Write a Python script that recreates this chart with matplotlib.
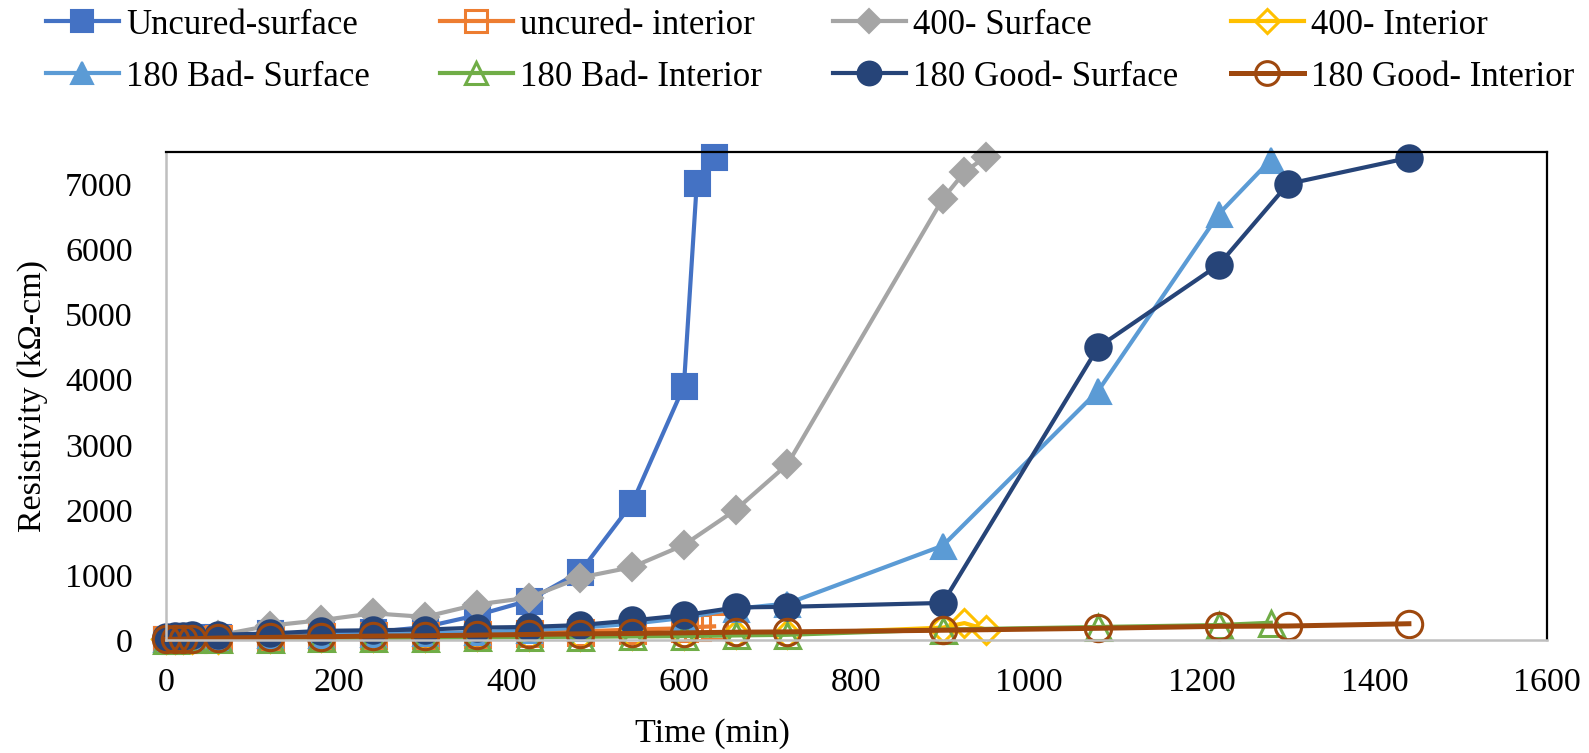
import matplotlib
matplotlib.use("Agg")
import matplotlib.pyplot as plt
from matplotlib.lines import Line2D

plt.rcParams['font.family'] = ['Liberation Serif', 'DejaVu Serif']

# time axis (min) for each group of specimens
t_uncured = [0, 10, 20, 30, 60, 120, 180, 240, 300, 360, 420, 480, 540, 600, 615, 635]
t_400 = [0, 10, 20, 30, 60, 120, 180, 240, 300, 360, 420, 480, 540, 600, 660, 720, 900, 925, 950]
t_bad = [0, 10, 20, 30, 60, 120, 180, 240, 300, 360, 420, 480, 540, 600, 660, 720, 900, 1080, 1220, 1280]
t_good = [0, 10, 20, 30, 60, 120, 180, 240, 300, 360, 420, 480, 540, 600, 660, 720, 900, 1080, 1220, 1300, 1440]

# resistivity (kOhm-cm)
uncured_surf = [20, 25, 30, 40, 50, 100, 110, 120, 200, 380, 605, 1050, 2100, 3900, 7030, 7420]
uncured_int = [10, 12, 15, 20, 30, 45, 60, 70, 80, 95, 110, 130, 160, 180, 200, 210]
s400_surf = [20, 25, 30, 40, 70, 220, 305, 410, 355, 545, 650, 960, 1120, 1460, 2000, 2700, 6780, 7190, 7430]
s400_int = [10, 11, 12, 15, 20, 30, 40, 45, 50, 55, 60, 65, 70, 75, 85, 95, 190, 260, 160]
bad_surf = [20, 25, 30, 40, 50, 70, 80, 90, 100, 120, 150, 190, 250, 340, 480, 560, 1450, 3830, 6550, 7380]
bad_int = [5, 6, 8, 10, 15, 20, 25, 30, 35, 40, 45, 50, 55, 60, 70, 80, 160, 200, 230, 265]
good_surf = [50, 55, 60, 70, 80, 100, 140, 150, 160, 190, 200, 230, 300, 380, 500, 510, 570, 4500, 5770, 7010, 7410]
good_int = [10, 12, 15, 20, 30, 40, 50, 60, 65, 75, 85, 95, 100, 110, 120, 125, 150, 180, 210, 215, 250]

labels = ['Uncured-surface', 'uncured- interior', '400- Surface', '400- Interior',
          '180 Bad- Surface', '180 Bad- Interior', '180 Good- Surface', '180 Good- Interior']
xticks = [0, 200, 400, 600, 800, 1000, 1200, 1400, 1600]
yticks = [0, 1000, 2000, 3000, 4000, 5000, 6000, 7000]

# (x, y, colour, marker, size, filled, linewidth)
series = [
    (t_uncured, uncured_surf, '#4472C4', 's', 18, True, 3.0),
    (t_uncured, uncured_int, '#ED7D31', 's', 18, False, 3.0),
    (t_400, s400_surf, '#A5A5A5', 'D', 14, True, 3.0),
    (t_400, s400_int, '#FFC000', 'D', 14, False, 3.0),
    (t_bad, bad_surf, '#5B9BD5', '^', 18, True, 3.0),
    (t_bad, bad_int, '#70AD47', '^', 18, False, 3.0),
    (t_good, good_surf, '#264478', 'o', 19, True, 3.0),
    (t_good, good_int, '#9E480E', 'o', 19, False, 3.6),
]

fig = plt.figure(figsize=(15.89, 7.53), dpi=100)
ax = fig.add_axes([166/1589, 1 - 640/753, (1547 - 166)/1589, (640 - 152)/753])

handles = []
for x, y, c, m, ms, filled, lw in series:
    h, = ax.plot(x, y, color=c, lw=lw, marker=m, markersize=ms,
                 markerfacecolor=c if filled else 'none',
                 markeredgecolor=c, markeredgewidth=1.5 if filled else 2.2,
                 clip_on=False)
    handles.append(h)

ax.set_xlim(0, 1600)
ax.set_ylim(0, 7500)
ax.set_xticks(xticks)
ax.set_yticks(yticks)
ax.tick_params(axis='x', length=0, pad=20, labelsize=24.5)
ax.tick_params(axis='y', length=0, pad=24, labelsize=24.5)
for s in ['top', 'right']:
    ax.spines[s].set_color('black')
    ax.spines[s].set_linewidth(1.6)
for s in ['left', 'bottom']:
    ax.spines[s].set_color('#BFBFBF')
    ax.spines[s].set_linewidth(1.8)

fig.text(712/1589, 1 - 734/753, 'Time (min)', fontsize=24.5, ha='center', va='center')
fig.text(33/1589, 1 - 396/753, 'Resistivity (kΩ-cm)', fontsize=24.5,
         ha='center', va='center', rotation=90)

# legend: 4 columns x 2 rows, each entry placed on its own
col_x = [46, 440, 833, 1231]
row_y = [25, 77]
for i, h in enumerate(handles):
    proxy = Line2D([], [], color=h.get_color(), lw=h.get_linewidth(),
                   marker=h.get_marker(), markersize=h.get_markersize() * 0.9,
                   markerfacecolor=h.get_markerfacecolor(),
                   markeredgecolor=h.get_markeredgecolor(),
                   markeredgewidth=h.get_markeredgewidth())
    fig.legend([proxy], [labels[i]], loc='center left',
               bbox_to_anchor=(col_x[i % 4]/1589, 1 - row_y[i // 4]/753),
               frameon=False, fontsize=25, borderpad=0, borderaxespad=0,
               handlelength=2.1, handletextpad=0.2)

fig.savefig('out.png', dpi=100)
